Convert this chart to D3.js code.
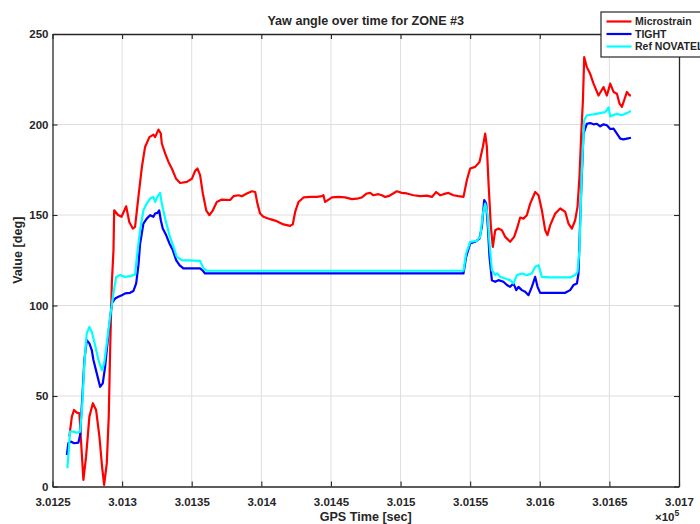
<!DOCTYPE html>
<html>
<head>
<meta charset="utf-8">
<script src="https://cdn.jsdelivr.net/npm/d3@7"></script>
<style>
  body { margin: 0; background: #fff; }
  svg { display: block; }
  text { font-family: "Liberation Sans", Arial, Helvetica, sans-serif; font-weight: bold; fill: #262626; }
</style>
</head>
<body>
<svg id="chart" width="700" height="524"></svg>
<script>
// GPS time [s], yaw [deg]
const microstrain = [
  [301262.1,27.5],[301263.9,38.6],[301265.5,42.3],[301267.5,40.8],[301269.3,40.4],[301270.3,27.5],
  [301272.2,3.6],[301274.1,16.5],[301276.5,38.6],[301279.0,46.0],[301281.3,42.3],[301283.7,27.5],
  [301285.6,11.0],[301287.1,0.9],[301289.0,12.9],[301290.4,38.6],[301291.4,75.4],[301292.6,112.0],
  [301293.8,130.6],[301294.3,152.6],[301297.1,150.0],[301299.6,149.0],[301302.9,154.8],[301305.2,146.0],
  [301307.7,142.5],[301309.3,143.4],[301311.7,160.0],[301314.2,176.5],[301316.5,187.6],[301319.6,193.0],
  [301322.5,194.4],[301323.7,193.0],[301326.1,197.2],[301327.8,195.0],[301328.5,189.5],[301330.9,184.0],
  [301333.3,179.3],[301335.7,175.7],[301338.8,170.0],[301341.7,167.7],[301346.5,168.3],[301350.1,170.0],
  [301352.4,174.3],[301354.1,175.7],[301356.0,172.0],[301358.0,161.9],[301360.4,152.6],[301362.7,149.9],
  [301365.2,152.6],[301368.0,157.2],[301371.6,158.5],[301377.6,158.3],[301380.0,160.4],[301383.6,160.9],
  [301386.0,160.4],[301389.6,161.9],[301393.2,163.1],[301395.6,162.7],[301397.2,156.3],[301399.1,150.8],
  [301401.5,149.0],[301406.3,147.7],[301411.1,146.6],[301415.9,144.8],[301420.7,144.0],[301422.6,144.9],
  [301424.3,151.7],[301426.7,157.2],[301430.3,159.7],[301435.1,160.0],[301439.9,160.0],[301443.5,160.4],
  [301444.6,160.9],[301445.8,157.2],[301447.5,158.1],[301450.7,159.7],[301455.4,160.0],[301460.2,159.7],
  [301465.0,158.8],[301468.6,159.0],[301472.2,159.7],[301475.8,161.9],[301478.2,162.2],[301480.5,160.9],
  [301484.1,161.5],[301486.6,160.9],[301488.9,160.0],[301491.3,160.4],[301493.8,161.5],[301497.3,163.1],
  [301500.9,162.2],[301504.5,161.9],[301509.3,160.9],[301514.1,160.4],[301518.9,160.7],[301522.5,160.0],
  [301525.6,162.7],[301528.5,160.9],[301530.8,161.5],[301534.4,162.2],[301538.0,160.9],[301541.6,160.4],
  [301545.2,160.0],[301547.6,169.2],[301550.0,175.7],[301553.6,176.6],[301556.7,179.3],[301559.1,187.6],
  [301560.8,195.0],[301562.0,187.6],[301563.2,167.4],[301564.9,143.4],[301566.3,132.4],[301568.0,141.6],
  [301570.3,142.5],[301572.8,141.6],[301575.2,137.9],[301578.7,135.2],[301581.6,137.9],[301584.0,143.4],
  [301585.9,148.6],[301588.3,148.0],[301590.7,149.9],[301593.1,156.3],[301596.7,162.7],[301599.1,160.9],
  [301601.5,152.6],[301603.9,141.6],[301605.5,138.9],[301607.5,144.4],[301611.1,150.8],[301614.7,153.6],
  [301618.3,151.7],[301620.6,145.3],[301623.1,142.5],[301625.4,147.1],[301627.1,154.5],[301628.5,171.0],
  [301629.8,195.0],[301631.0,213.4],[301631.9,237.2],[301633.8,231.7],[301636.2,228.0],[301638.6,222.6],
  [301642.2,216.0],[301645.8,220.7],[301648.2,216.0],[301650.6,222.6],[301653.0,218.0],[301655.4,217.0],
  [301657.3,211.5],[301659.0,209.7],[301660.6,213.4],[301662.6,218.0],[301664.5,216.1],[301665.5,216.1]
];

const tight = [
  [301260.3,17.4],[301261.4,23.9],[301263.1,24.8],[301265.5,23.9],[301268.6,24.2],[301269.8,28.5],
  [301271.3,47.8],[301272.9,69.9],[301274.6,80.9],[301276.5,79.1],[301278.2,75.4],[301279.4,69.9],
  [301281.8,62.5],[301284.2,55.1],[301286.1,57.0],[301287.8,66.2],[301290.2,84.6],[301292.6,101.2],
  [301295.0,103.9],[301297.3,104.8],[301299.8,105.7],[301302.2,106.7],[301305.7,107.0],[301308.1,108.0],
  [301310.1,112.2],[301311.7,122.0],[301312.9,134.0],[301315.3,145.3],[301317.7,148.0],[301320.1,149.9],
  [301322.5,149.0],[301323.7,150.8],[301325.4,151.2],[301326.6,152.6],[301327.8,147.1],[301329.2,142.5],
  [301331.6,138.9],[301334.0,134.3],[301336.4,130.6],[301338.8,125.1],[301341.2,122.3],[301344.0,120.5],
  [301356.0,120.5],[301358.0,119.2],[301359.6,117.7],[301545.2,117.7],[301547.1,126.9],[301550.0,134.3],
  [301553.6,135.2],[301556.7,137.0],[301558.4,143.4],[301560.1,158.2],[301561.5,156.3],[301562.7,143.4],
  [301563.9,126.9],[301565.6,114.0],[301568.0,113.1],[301570.3,114.0],[301573.9,113.1],[301576.4,111.3],
  [301578.7,110.3],[301581.1,112.2],[301583.1,108.5],[301584.7,110.3],[301587.1,108.5],[301589.5,107.6],
  [301591.9,105.7],[301594.3,110.3],[301596.7,115.8],[301598.4,110.3],[301600.3,107.0],[301612.3,107.0],
  [301618.3,107.0],[301621.8,108.5],[301624.2,111.3],[301626.7,112.2],[301627.8,117.7],[301629.5,158.2],
  [301631.4,195.0],[301633.8,200.4],[301636.2,200.8],[301638.6,200.1],[301641.0,200.4],[301643.4,199.0],
  [301645.8,200.1],[301648.2,199.6],[301650.6,197.5],[301653.0,197.7],[301655.4,195.0],[301657.8,192.2],
  [301660.1,191.8],[301662.6,192.2],[301665.5,192.7]
];

const refNovatel = [
  [301260.7,10.1],[301261.7,20.2],[301262.6,30.3],[301265.0,30.3],[301267.5,29.7],[301269.8,30.3],
  [301271.3,44.1],[301272.9,68.0],[301274.6,84.6],[301276.5,88.2],[301278.2,85.5],[301280.6,78.1],
  [301283.0,69.9],[301285.4,64.3],[301287.1,68.0],[301289.0,79.1],[301291.4,93.8],[301293.8,106.7],
  [301295.7,115.8],[301298.6,116.8],[301302.2,115.8],[301305.7,116.2],[301308.1,116.8],[301309.3,117.0],
  [301310.6,126.9],[301312.9,141.6],[301315.3,152.6],[301317.7,156.3],[301320.1,159.1],[301322.5,160.0],
  [301323.7,157.2],[301325.4,160.0],[301327.3,162.2],[301328.5,156.3],[301330.9,148.0],[301334.0,138.9],
  [301336.9,132.4],[301339.3,126.9],[301342.9,125.1],[301356.0,124.7],[301358.4,120.5],[301360.9,119.2],
  [301545.2,119.2],[301547.1,128.8],[301550.0,135.2],[301554.8,135.7],[301557.2,137.9],[301559.1,150.8],
  [301560.8,156.3],[301562.4,150.8],[301563.9,134.3],[301565.6,119.5],[301568.0,116.8],[301569.6,117.7],
  [301571.6,115.8],[301575.2,114.9],[301578.7,114.0],[301581.1,112.2],[301583.6,116.8],[301587.1,117.7],
  [301590.7,116.8],[301594.3,117.7],[301596.7,121.4],[301599.1,122.3],[301601.5,115.8],[301607.5,115.5],
  [301621.8,115.5],[301625.4,116.8],[301627.1,118.6],[301628.5,130.6],[301630.3,176.5],[301631.9,202.3],
  [301633.8,205.1],[301638.6,205.6],[301643.4,206.3],[301647.0,206.8],[301649.4,209.5],[301650.6,204.5],
  [301655.4,205.9],[301659.0,205.1],[301662.6,206.3],[301665.5,207.5]
];

const seriesNames = ["Microstrain", "TIGHT", "Ref NOVATEL"];
const seriesColors = ["#ff0000", "#0000ff", "#00ffff"];
const xTicks = [301250, 301300, 301350, 301400, 301450, 301500, 301550, 301600, 301650, 301700];
const yTicks = [0, 50, 100, 150, 200, 250];
const titleText = "Yaw angle over time for ZONE #3";
const xLabel = "GPS Time [sec]";
const yLabel = "Value [deg]";

const plot = { left: 52.5, right: 679, top: 34, bottom: 486.5 };
const svg = d3.select("#chart");

const x = d3.scaleLinear().domain([301250, 301700]).range([plot.left, plot.right]);
const y = d3.scaleLinear().domain([0, 250]).range([plot.bottom, plot.top]);

// grid
const grid = svg.append("g").attr("stroke", "#dedede").attr("stroke-width", 1);
grid.selectAll("line.gx").data(xTicks.slice(1, -1)).join("line")
  .attr("x1", d => x(d)).attr("x2", d => x(d))
  .attr("y1", plot.top).attr("y2", plot.bottom);
grid.selectAll("line.gy").data(yTicks.slice(1, -1)).join("line")
  .attr("x1", plot.left).attr("x2", plot.right)
  .attr("y1", d => y(d)).attr("y2", d => y(d));

// series
const line = d3.line().x(d => x(d[0])).y(d => y(d[1]));
const allSeries = [microstrain, tight, refNovatel];
svg.append("g").selectAll("path").data(allSeries).join("path")
  .attr("d", line)
  .attr("fill", "none")
  .attr("stroke", (d, i) => seriesColors[i])
  .attr("stroke-width", 2.2)
  .attr("stroke-linejoin", "round");

// axes with inward ticks
const fmtX = d => String(parseFloat((d / 1e5).toFixed(5)));
const xAxis = svg.append("g").attr("transform", `translate(0,${plot.bottom})`)
  .call(d3.axisBottom(x).tickValues(xTicks).tickFormat(fmtX).tickSizeInner(-5).tickSizeOuter(0).tickPadding(11));
const yAxis = svg.append("g").attr("transform", `translate(${plot.left},0)`)
  .call(d3.axisLeft(y).tickValues(yTicks).tickSizeInner(-5).tickSizeOuter(0).tickPadding(4));
const xTop = svg.append("g").attr("transform", `translate(0,${plot.top})`)
  .call(d3.axisTop(x).tickValues(xTicks).tickFormat("").tickSizeInner(-5).tickSizeOuter(0));
const yRight = svg.append("g").attr("transform", `translate(${plot.right},0)`)
  .call(d3.axisRight(y).tickValues(yTicks).tickFormat("").tickSizeInner(-5).tickSizeOuter(0));
[xAxis, yAxis, xTop, yRight].forEach(g => {
  g.selectAll(".domain").attr("stroke", "#262626").attr("stroke-width", 1.3);
  g.selectAll(".tick line").attr("stroke", "#262626").attr("stroke-width", 1.1);
  g.selectAll("text").attr("font-size", 11.5).attr("font-weight", "bold")
    .attr("font-family", '"Liberation Sans", Arial, sans-serif').attr("fill", "#262626");
});

// exponent marker
const expo = svg.append("text").attr("x", 655).attr("y", 521).attr("font-size", 11.5).attr("font-weight", "normal");
expo.append("tspan").text("\u00d710");
expo.append("tspan").attr("dy", -5).attr("font-size", 8.5).text("5");

// title and labels
svg.append("text").attr("x", (plot.left + plot.right) / 2).attr("y", 25)
  .attr("text-anchor", "middle").attr("font-size", 12.6).text(titleText);
svg.append("text").attr("x", (plot.left + plot.right) / 2).attr("y", 521)
  .attr("text-anchor", "middle").attr("font-size", 12.6).text(xLabel);
svg.append("text").attr("transform", `translate(22,${(plot.top + plot.bottom) / 2 - 10}) rotate(-90)`)
  .attr("text-anchor", "middle").attr("font-size", 12.6).text(yLabel);

// legend
const legend = svg.append("g").attr("transform", "translate(601,12)");
legend.append("rect").attr("width", 110).attr("height", 45)
  .attr("fill", "#fff").attr("stroke", "#262626").attr("stroke-width", 1.2);
const rows = legend.selectAll("g.row").data(seriesNames).join("g")
  .attr("transform", (d, i) => `translate(0,${9.5 + i * 12.5})`);
rows.append("line").attr("x1", 5.5).attr("x2", 30.5).attr("y1", 0).attr("y2", 0)
  .attr("stroke", (d, i) => seriesColors[i]).attr("stroke-width", 2.2);
rows.append("text").attr("x", 34).attr("y", 0).attr("dy", "0.35em")
  .attr("font-size", 10.5).text(d => d);
</script>
</body>
</html>
